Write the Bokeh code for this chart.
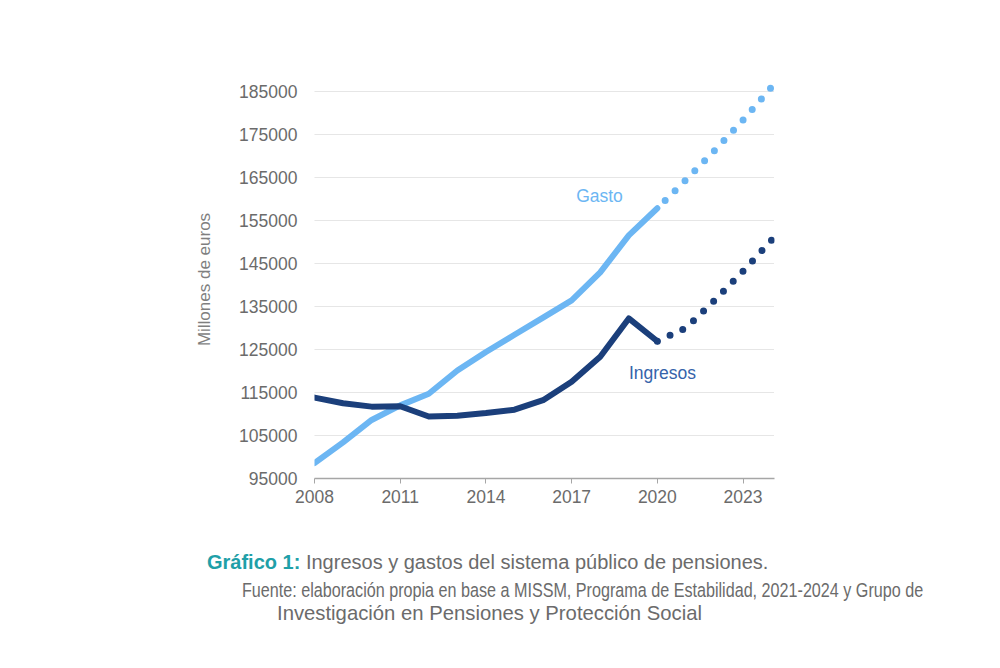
from bokeh.embed import file_html
from bokeh.layouts import column
from bokeh.models import Div, FixedTicker, Label, NumeralTickFormatter, Range1d
from bokeh.plotting import figure
from bokeh.resources import INLINE

# Pension system income and spending (millions of euros)
years = [2008, 2009, 2010, 2011, 2012, 2013, 2014, 2015, 2016, 2017, 2018, 2019, 2020]
gasto = [98600, 103400, 108600, 112000, 114700, 120100, 124400, 128400, 132400,
         136400, 142900, 151500, 157800]
ingresos = [113800, 112500, 111700, 111800, 109400, 109600, 110200, 111000, 113200,
            117500, 123300, 132200, 126900]

# Projections 2020-2024
proj_years = [2020, 2021, 2022, 2023, 2024]
gasto_proj = [157800, 164400, 171200, 178300, 186000]
ingresos_proj = [126900, 130000, 136400, 143200, 150400]

y_ticks = [95000, 105000, 115000, 125000, 135000, 145000, 155000, 165000, 175000, 185000]
x_ticks = [2008, 2011, 2014, 2017, 2020, 2023]

caption_title = "Gráfico 1:"
caption_line1 = "Ingresos y gastos del sistema público de pensiones."
caption_line2 = ("Fuente: elaboración propia en base a MISSM, Programa de Estabilidad, "
                 "2021-2024 y Grupo de")
caption_line3 = "Investigación en Pensiones y Protección Social"

LIGHT = "#6CB6F3"
DARK = "#1B3F7B"
DARK_TEXT = "#3563AA"
TEAL = "#1FA0A8"
GREY = "#6B6B6B"
FONT = "Liberation Sans"

W = 1000
CHART_H, CAPTION_H = 520, 148
LEFT, RIGHT, TOP = 314, 226, 80
BOTTOM = CHART_H - 478
X0, X1 = 2008, 2024.1
Y0, Y1 = 95000, 187500
FW, FH = W - LEFT - RIGHT, CHART_H - TOP - BOTTOM


def dx(px):
    return X0 + (px - LEFT) / FW * (X1 - X0)


def dy(py):
    return Y0 + (TOP + FH - py) / FH * (Y1 - Y0)


p = figure(width=W, height=CHART_H, x_range=Range1d(X0, X1), y_range=Range1d(Y0, Y1),
           output_backend="svg", toolbar_location=None,
           min_border_left=LEFT, min_border_right=RIGHT,
           min_border_top=TOP, min_border_bottom=BOTTOM)
p.outline_line_color = None
p.background_fill_color = "white"
p.border_fill_color = "white"

# axes
p.xaxis.ticker = FixedTicker(ticks=x_ticks)
p.xaxis.axis_line_color = "#A6A6A6"
p.xaxis.axis_line_width = 1.5
p.xaxis.major_tick_line_color = "#A6A6A6"
p.xaxis.major_tick_in = 0
p.xaxis.major_tick_out = 5
p.xaxis.minor_tick_line_color = None
p.xaxis.major_label_standoff = 6
p.xaxis.major_label_text_font = FONT
p.xaxis.major_label_text_font_size = "17.5px"
p.xaxis.major_label_text_color = GREY

p.yaxis.ticker = FixedTicker(ticks=y_ticks)
p.yaxis.formatter = NumeralTickFormatter(format="0")
p.yaxis.axis_line_color = None
p.yaxis.major_tick_line_color = None
p.yaxis.minor_tick_line_color = None
p.yaxis.major_tick_in = 0
p.yaxis.major_tick_out = 0
p.yaxis.major_label_standoff = 17
p.yaxis.major_label_text_font = FONT
p.yaxis.major_label_text_font_size = "17.5px"
p.yaxis.major_label_text_color = GREY
p.yaxis.axis_label = "Millones de euros"
p.yaxis.axis_label_standoff = 22
p.yaxis.axis_label_text_font = FONT
p.yaxis.axis_label_text_font_style = "normal"
p.yaxis.axis_label_text_font_size = "17px"
p.yaxis.axis_label_text_color = "#7F7F7F"

p.xgrid.grid_line_color = None
p.ygrid.grid_line_color = "#CCCCCC"
p.ygrid.grid_line_dash = "1 1"
p.ygrid.grid_line_width = 1

# series
p.line(years, gasto, line_width=6, color=LIGHT, line_cap="round", line_join="round")
p.line(years, ingresos, line_width=6, color=DARK, line_cap="round", line_join="round")
# projections drawn as round dots
p.line(proj_years, gasto_proj, line_width=7, color=LIGHT, line_dash="0 14",
       line_dash_offset=3, line_cap="round")
p.line(proj_years, ingresos_proj, line_width=7, color=DARK, line_dash="0 14",
       line_dash_offset=0, line_cap="round")

# series labels
p.add_layout(Label(x=dx(599), y=dy(195), text="Gasto", text_align="center",
                   text_baseline="middle", text_font=FONT, text_font_size="17.5px",
                   text_color=LIGHT))
p.add_layout(Label(x=dx(662), y=dy(372), text="Ingresos", text_align="center",
                   text_baseline="middle", text_font=FONT, text_font_size="17.5px",
                   text_color=DARK_TEXT))

# caption below the chart
line_style = ("position:absolute;white-space:nowrap;line-height:20px;"
              "font-family:'Liberation Sans',Arial,sans-serif;")
caption_html = (
    f'<div style="position:relative;width:{W}px;height:{CAPTION_H}px;color:{GREY};">'
    f'<div style="{line_style}left:202px;top:27px;font-size:20px;">'
    f'<b style="color:{TEAL};">{caption_title}</b> {caption_line1}</div>'
    f'<div style="{line_style}left:237px;top:55px;font-size:19.7px;'
    f'transform:scaleX(0.82);transform-origin:left center;">{caption_line2}</div>'
    f'<div style="{line_style}left:272px;top:78px;font-size:20.3px;">{caption_line3}</div>'
    '</div>'
)
cap = Div(text=caption_html, width=W, height=CAPTION_H)

layout = column(p, cap, spacing=0)
open("out.html", "w").write(file_html(layout, INLINE))
